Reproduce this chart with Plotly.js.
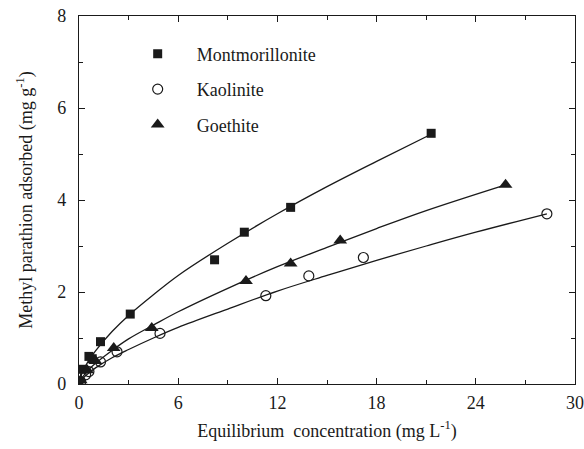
<!DOCTYPE html>
<html>
<head>
<meta charset="utf-8">
<script src="https://cdn.plot.ly/plotly-3.0.1.min.js"></script>
<style>html,body{margin:0;padding:0;background:#fff;}#chart{width:584px;height:449px;}</style>
</head>
<body>
<div id="chart"></div>
<script>
// Measured points
var montX = [0, 0.2, 0.6, 0.8, 1.3, 3.1, 8.2, 10.0, 12.8, 21.3];
var montY = [0.02, 0.32, 0.60, 0.55, 0.92, 1.52, 2.70, 3.30, 3.84, 5.45];
var kaoX = [0.1, 0.4, 0.6, 1.3, 2.3, 4.9, 11.3, 13.9, 17.2, 28.3];
var kaoY = [0.05, 0.20, 0.27, 0.48, 0.70, 1.10, 1.92, 2.35, 2.75, 3.70];
var goeX = [0.1, 0.5, 1.0, 2.1, 4.4, 10.1, 12.8, 15.8, 25.8];
var goeY = [0.08, 0.30, 0.50, 0.78, 1.22, 2.24, 2.62, 3.12, 4.33];

// Fitted curves
var montFitX = [0.05, 0.2, 0.5, 1, 2, 3, 4.5, 6, 9, 12, 15, 18, 21.3];
var montFitY = [0.10, 0.25, 0.46, 0.72, 1.14, 1.49, 1.94, 2.36, 3.06, 3.70, 4.29, 4.84, 5.43];
var kaoFitX = [0.05, 0.2, 0.5, 1, 2, 3, 4.5, 6, 9, 12, 15, 18, 21, 24, 28.3];
var kaoFitY = [0.04, 0.11, 0.21, 0.35, 0.57, 0.75, 1.00, 1.23, 1.63, 2.02, 2.36, 2.69, 3.00, 3.30, 3.70];
var goeFitX = [0.05, 0.2, 0.5, 1, 2, 3, 4.5, 6, 9, 12, 15, 18, 21, 25.8];
var goeFitY = [0.06, 0.14, 0.28, 0.45, 0.73, 0.98, 1.28, 1.57, 2.08, 2.55, 2.97, 3.38, 3.77, 4.33];

var names = ['Montmorillonite', 'Kaolinite', 'Goethite'];
var xTicks = [0, 6, 12, 18, 24, 30];
var yTicks = [0, 2, 4, 6, 8];

var ink = '#1a1a1a';
var fnt = {family: 'Liberation Serif', size: 18, color: ink};

function fit(x, y) {
  return {x: x, y: y, mode: 'lines', type: 'scatter', showlegend: false, hoverinfo: 'skip',
    line: {color: ink, width: 1.3, shape: 'spline', smoothing: 1}};
}

var traces = [
  fit(montFitX, montFitY), fit(kaoFitX, kaoFitY), fit(goeFitX, goeFitY),
  {x: montX, y: montY, name: names[0], legendgroup: 'a', mode: 'markers', type: 'scatter',
    marker: {symbol: 'square', size: 9, color: ink}},
  {x: kaoX, y: kaoY, name: names[1], legendgroup: 'b', mode: 'markers', type: 'scatter',
    marker: {symbol: 'circle-open', size: 10, color: ink, line: {width: 1.2, color: ink}}},
  {x: goeX, y: goeY, name: names[2], legendgroup: 'c', mode: 'markers', type: 'scatter',
    marker: {symbol: 'triangle-up', size: 12, color: ink}}
];

var axisCommon = {
  showgrid: false, zeroline: false, showline: true, linecolor: ink, linewidth: 1.2,
  mirror: 'ticks', ticks: 'inside', ticklen: 6, tickwidth: 1, tickcolor: ink,
  tickfont: fnt, tickmode: 'array'
};

var layout = {
  width: 584, height: 449,
  margin: {l: 79, r: 9, t: 16, b: 65},
  paper_bgcolor: '#fff', plot_bgcolor: '#fff',
  font: fnt,
  showlegend: true,
  legend: {x: 0.08, y: 0.947, xanchor: 'left', yanchor: 'top', bgcolor: 'rgba(0,0,0,0)',
    font: fnt, traceorder: 'grouped', tracegroupgap: 9, itemwidth: 68},
  xaxis: Object.assign({}, axisCommon, {
    range: [0, 30], tickvals: xTicks, ticktext: xTicks.map(String),
    minor: {ticks: 'inside', ticklen: 4, tickcolor: ink, dtick: 3, tick0: 0},
    ticklabelstandoff: 2,
    title: {text: 'Equilibrium\u00a0 concentration (mg L<sup>-1</sup>)', font: fnt, standoff: 12}
  }),
  yaxis: Object.assign({}, axisCommon, {
    range: [0, 8], tickvals: yTicks, ticktext: yTicks.map(String),
    minor: {ticks: 'inside', ticklen: 4, tickcolor: ink, dtick: 1, tick0: 0},
    ticklabelstandoff: 8,
    title: {text: 'Methyl parathion adsorbed (mg g<sup>-1</sup>)', font: fnt, standoff: 20}
  })
};

Plotly.newPlot('chart', traces, layout, {displayModeBar: false, staticPlot: true});
</script>
</body>
</html>
